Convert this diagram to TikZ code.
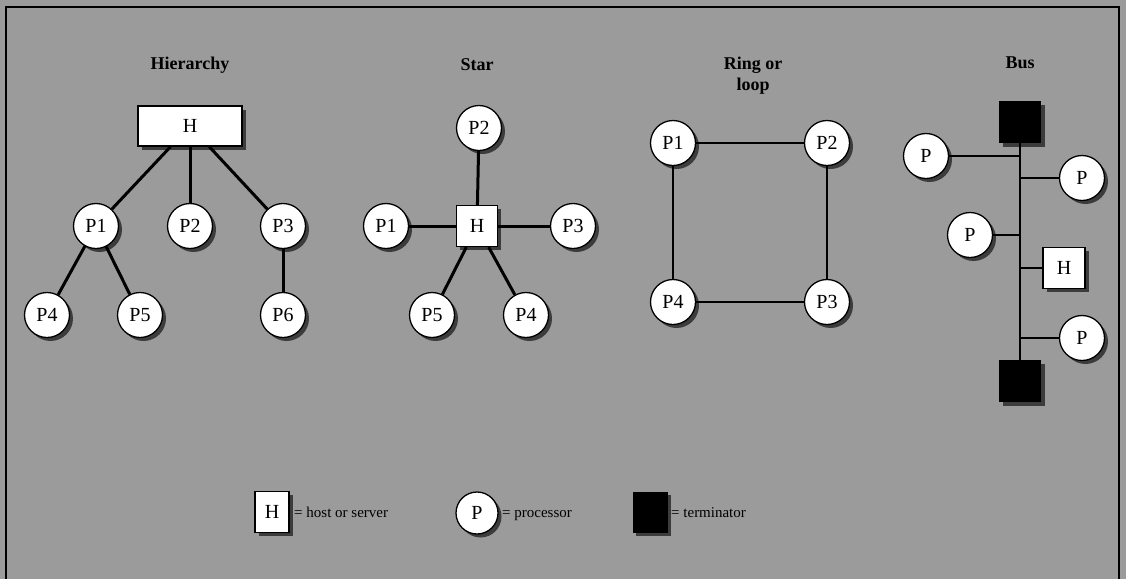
\documentclass[tikz,border=0pt]{standalone}
\usepackage{fontspec}
\setmainfont{Liberation Serif}
\usetikzlibrary{shadows}
\definecolor{bg}{RGB}{155,155,155}
\definecolor{shade}{RGB}{60,60,60}
\begin{document}
\begin{tikzpicture}[x=1pt,y=-1pt,
  shad/.style={drop shadow={shadow xshift=3.5pt,shadow yshift=-3.5pt,fill=shade,opacity=1}},
  proc/.style={circle,draw=black,line width=1.3pt,fill=white,minimum size=45pt,inner sep=0pt,
    font=\fontsize{20}{20}\selectfont,shad},
  host/.style={rectangle,draw=black,line width=1.3pt,fill=white,inner sep=0pt,
    font=\fontsize{20}{20}\selectfont,shad},
  term/.style={rectangle,fill=black,inner sep=0pt,shad},
  link/.style={line width=3pt},
  thin/.style={line width=2.3pt},
  ttl/.style={font=\fontsize{18}{21}\selectfont\bfseries,align=center},
  lgd/.style={font=\fontsize{15}{15}\selectfont,anchor=base west,inner sep=0pt}]
\useasboundingbox (0,0) rectangle (1126,579);
\fill[bg] (0,0) rectangle (1126,579);
\draw[line width=2pt] (6,579) -- (6,7) -- (1119,7) -- (1119,579);

% Hierarchy
\node[ttl] (th) at (190,65) {Hierarchy};
\node[host,minimum width=104pt,minimum height=40pt] (hH) at (190,126) {H};
\node[proc] (h1) at (96,226) {P1};
\node[proc] (h2) at (190,226) {P2};
\node[proc] (h3) at (283,226) {P3};
\node[proc] (h4) at (47,315) {P4};
\node[proc] (h5) at (140,315) {P5};
\node[proc] (h6) at (283,315) {P6};
\draw[link] (hH) -- (h1);
\draw[link] (hH) -- (h2);
\draw[link] (hH) -- (h3);
\draw[link] (h1) -- (h4);
\draw[link] (h1) -- (h5);
\draw[link] (h3) -- (h6);

% Star
\node[ttl] (ts) at (477,65) {Star};
\node[host,minimum width=41pt,minimum height=41pt] (sH) at (477,226) {H};
\node[proc] (s2) at (479,128) {P2};
\node[proc] (s1) at (386,226) {P1};
\node[proc] (s3) at (573,226) {P3};
\node[proc] (s5) at (432,315) {P5};
\node[proc] (s4) at (526,315) {P4};
\draw[link] (sH) -- (s2);
\draw[link] (sH) -- (s1);
\draw[link] (sH) -- (s3);
\draw[link] (sH) -- (s5);
\draw[link] (sH) -- (s4);

% Ring
\node[ttl] (tr) at (753,76) {Ring or\\loop};
\node[proc] (r1) at (673,143) {P1};
\node[proc] (r2) at (827,143) {P2};
\node[proc] (r3) at (827,302) {P3};
\node[proc] (r4) at (673,302) {P4};
\draw[thin] (r1) -- (r2);
\draw[thin] (r2) -- (r3);
\draw[thin] (r3) -- (r4);
\draw[thin] (r4) -- (r1);

% Bus
\node[ttl] (tb) at (1020,63) {Bus};
\node[term,minimum width=42pt,minimum height=42pt] (bt) at (1020,122) {};
\node[term,minimum width=42pt,minimum height=42pt] (bb) at (1020,381) {};
\node[proc] (b1) at (926,156) {P};
\node[proc] (b2) at (1082,178) {P};
\node[proc] (b3) at (970,235) {P};
\node[host,minimum width=42pt,minimum height=41pt] (bH) at (1064,268) {H};
\node[proc] (b4) at (1082,338) {P};
\draw[thin] (bt.south) -- (bb.north);
\draw[thin] (b1) -- (b1 -| bt);
\draw[thin] (b2) -- (b2 -| bt);
\draw[thin] (b3) -- (b3 -| bt);
\draw[thin] (bH) -- (bH -| bt);
\draw[thin] (b4) -- (b4 -| bt);

% Legend
\node[host,minimum width=34pt,minimum height=41pt] (lH) at (272,512) {H};
\node[lgd] (lHt) at (294,517) {= host or server};
\node[proc,minimum width=38pt,minimum height=42pt] (lP) at (477,513) {P};
\node[lgd] (lPt) at (502,517) {= processor};
\node[term,minimum width=35pt,minimum height=41pt] (lT) at (650,512) {};
\node[lgd] (lTt) at (671,517) {= terminator};
\end{tikzpicture}
\end{document}
